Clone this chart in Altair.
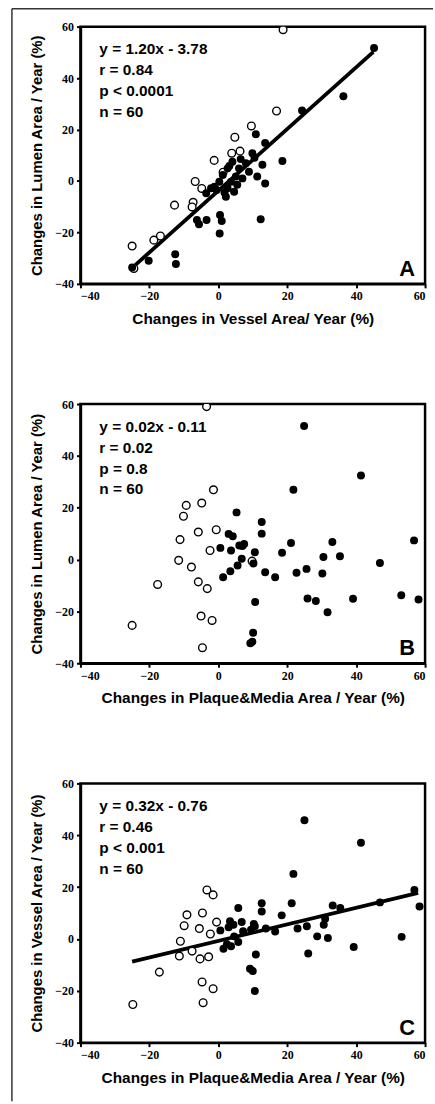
import altair as alt
import pandas as pd

# ---------------- Panel A: vessel change (x) vs lumen change (y)
A_open_x = [18.8, 16.9, 9.6, 4.8, 6.3, 3.9, -1.2, 1.4, -6.7, -4.8, -7.3, -7.6, -12.7, -16.8, -18.7, -25.0, -24.5]
A_open_y = [58.8, 27.2, 21.4, 17.0, 11.6, 10.8, 8.0, 3.4, -0.2, -2.9, -8.3, -10.1, -9.4, -21.4, -23.0, -25.3, -34.0]
A_fill_x = [45.2, 36.3, 24.3, 10.9, 13.6, 18.6, 12.8, 9.9, 8.0, 4.1, 2.7, 6.0, 8.9, 11.3, 13.6, 5.1, 1.3, 0.3,
            3.7, -1.1, 2.7, 4.6, 2.2, -2.1, -3.5, 12.3, 0.5, 1.0, 0.4, -6.2, -5.6, -3.4, -12.5, -12.3, -20.2,
            -25.0, 5.5, 7.0, 6.5, -0.5, 3.2, 10.5, 1.8]
A_fill_y = [51.7, 32.9, 27.4, 18.2, 14.8, 7.8, 6.3, 10.8, 6.9, 7.5, 4.9, 4.9, 3.6, 1.7, -1.0, 1.7, 2.3, -0.3,
            -0.3, -2.2, -2.8, -4.2, -6.1, -2.8, -4.8, -14.9, -13.2, -15.6, -20.4, -15.2, -16.8, -15.2, -28.5,
            -32.3, -31.0, -33.6, -1.5, 1.0, 8.5, -3.5, 5.8, 9.0, -4.5]

# ---------------- Panel B: plaque&media change (x) vs lumen change (y)
B_open_x = [-3.4, -1.4, -4.8, -9.3, -10.1, -5.8, -0.6, -11.1, -2.4, -11.5, -7.8, -17.6, -5.8, -3.2, -5.0,
            -1.8, -25.0, -4.6, 9.8]
B_open_y = [59.0, 26.9, 21.8, 20.9, 16.7, 10.6, 11.5, 7.7, 3.5, -0.3, -2.9, -9.6, -8.6, -11.2, -21.8,
            -23.5, -25.4, -34.0, -0.6]
B_fill_x = [24.9, 41.4, 21.8, 5.3, 12.6, 12.6, 3.0, 4.2, 0.6, 3.7, 6.1, 7.5, 10.6, 6.8, 10.2, 5.6, 3.5, 1.4,
            13.6, 16.5, 18.5, 21.1, 22.7, 25.6, 25.9, 28.3, 30.2, 30.5, 31.7, 33.1, 35.3, 39.1, 46.9, 53.1,
            56.8, 58.1, 10.7, 10.1, 9.9, 9.3, 7.0]
B_fill_y = [51.5, 32.4, 26.9, 18.2, 14.5, 10.0, 9.9, 9.0, 4.5, 3.5, 5.4, 6.0, 2.8, 0.3, -1.5, -2.3, -4.5, -6.8,
            -4.9, -6.8, 2.6, 6.4, -5.1, -3.6, -15.0, -16.0, -5.4, 1.0, -20.3, 6.8, 1.3, -15.1, -1.3, -13.8,
            7.4, -15.4, -16.4, -28.2, -31.7, -32.3, 5.2]

# ---------------- Panel C: plaque&media change (x) vs vessel change (y)
C_open_x = [-3.3, -1.5, -9.1, -4.6, -0.5, -9.9, -5.5, -2.3, -11.0, -11.3, -7.6, -5.3, -2.8, -17.1, -4.7,
            -1.5, -4.4, -24.8]
C_open_y = [18.9, 17.0, 9.3, 10.0, 6.5, 5.1, 4.0, 1.9, -0.9, -6.6, -4.7, -7.7, -6.9, -12.8, -16.6,
            -19.2, -24.6, -25.3]
C_fill_x = [25.0, 41.4, 21.8, 12.6, 12.6, 21.3, 18.4, 10.6, 13.8, 16.5, 23.0, 25.7, 28.7, 30.6, 31.0, 31.8,
            33.2, 35.4, 46.9, 56.9, 58.4, 53.2, 39.3, 26.1, 10.9, 10.0, 10.6, 0.6, 3.4, 5.8, 4.4, 6.8, 9.5,
            10.3, 1.5, 3.7, 5.8, 4.6, 9.2, 2.5, 7.2, 3.0]
C_fill_y = [45.8, 37.1, 25.1, 13.8, 10.6, 13.8, 9.1, 4.9, 4.0, 2.9, 4.0, 4.9, 1.0, 5.5, 7.8, 0.4,
            12.9, 11.9, 14.1, 18.9, 12.5, 0.8, -3.1, -5.6, -6.0, -12.4, -20.1, 3.3, 6.8, 11.9, 5.5, 6.5, 3.6,
            5.8, -3.8, -2.8, -1.2, 1.0, -11.5, -2.0, 3.0, 4.5]

# regression equations as printed, and the x-extent over which each line is drawn
A_fit = (1.20, -3.78, [-25.0, 45.0])
C_fit = (0.32, -0.76, [-25.0, 58.0])

A_stats = ["y = 1.20x - 3.78", "r = 0.84", "p < 0.0001", "n = 60"]
B_stats = ["y = 0.02x - 0.11", "r = 0.02", "p = 0.8", "n = 60"]
C_stats = ["y = 0.32x - 0.76", "r = 0.46", "p < 0.001", "n = 60"]

TICKS = [-40, -20, 0, 20, 40, 60]
X_TITLE_A = "Changes in Vessel Area/ Year (%)"
X_TITLE_BC = "Changes in Plaque&Media Area / Year (%)"
Y_TITLE_LUMEN = "Changes in Lumen Area / Year (%)"
Y_TITLE_VESSEL = "Changes in Vessel Area / Year (%)"

W = 347
FONT = "Liberation Sans"


def panel(ox, oy, fx, fy, fit, stats, letter, xtitle, ytitle, h, frame=False):
    xs = alt.Scale(domain=[-40, 60], nice=False)
    ys = alt.Scale(domain=[-40, 60], nice=False)
    xax = alt.Axis(values=TICKS, title=xtitle, format="d")
    yax = alt.Axis(values=TICKS, title=ytitle, format="d")
    dopen = pd.DataFrame({"x": ox, "y": oy})
    dfill = pd.DataFrame({"x": fx, "y": fy})
    layers = []
    if fit is not None:
        m, b, ext = fit
        dl = pd.DataFrame({"x": ext, "y": [m * v + b for v in ext]})
        layers.append(alt.Chart(dl).mark_line(color="black", strokeWidth=3.8).encode(
            x=alt.X("x:Q", scale=xs, axis=xax), y=alt.Y("y:Q", scale=ys, axis=yax)))
    layers.append(alt.Chart(dopen).mark_point(shape="circle", filled=False, fill="white", fillOpacity=1,
                                             stroke="black", strokeWidth=1.4, size=60, opacity=1, clip=True).encode(
        x=alt.X("x:Q", scale=xs, axis=xax), y=alt.Y("y:Q", scale=ys, axis=yax)))
    layers.append(alt.Chart(dfill).mark_circle(color="black", size=64, opacity=1, clip=True).encode(
        x=alt.X("x:Q", scale=xs, axis=xax), y=alt.Y("y:Q", scale=ys, axis=yax)))
    one = pd.DataFrame({"k": [0]})
    layers.append(alt.Chart(one).mark_text(text=stats, align="left", baseline="middle", lineHeight=21,
                                           font=FONT, fontSize=15.5, fontWeight="bold", color="black").encode(
        x=alt.value(19), y=alt.value(23)))
    layers.append(alt.Chart(one).mark_text(text=letter, align="right", baseline="alphabetic",
                                           font=FONT, fontSize=22, fontWeight="bold", color="black").encode(
        x=alt.value(337), y=alt.value(h - 8)))
    if frame:
        # outer figure frame: left and top edges only
        layers.append(alt.Chart(one).mark_rule(color="#333333", strokeWidth=1.5).encode(
            x=alt.value(-69), y=alt.value(-18), y2=alt.value(1082)))
        layers.append(alt.Chart(one).mark_rule(color="#333333", strokeWidth=1.5).encode(
            x=alt.value(-69), x2=alt.value(355), y=alt.value(-18)))
    return alt.layer(*layers).properties(width=W, height=h)


pA = panel(A_open_x, A_open_y, A_fill_x, A_fill_y, A_fit, A_stats, "A", X_TITLE_A, Y_TITLE_LUMEN, 259, frame=True)
pB = panel(B_open_x, B_open_y, B_fill_x, B_fill_y, None, B_stats, "B", X_TITLE_BC, Y_TITLE_LUMEN, 261)
pC = panel(C_open_x, C_open_y, C_fill_x, C_fill_y, C_fit, C_stats, "C", X_TITLE_BC, Y_TITLE_VESSEL, 261)

chart = alt.vconcat(pA, pB, pC, spacing=121, bounds="flush").properties(
    padding={"left": 10, "top": 3, "right": 0, "bottom": 0},
    background="white",
).configure_view(
    stroke="black", strokeWidth=2.5
).configure_axis(
    grid=False,
    domainColor="black", domainWidth=2.5,
    tickColor="black", tickWidth=2, tickSize=4,
    labelFont="Liberation Sans Narrow", labelFontSize=12, labelFontWeight="bold", labelColor="black",
    labelPadding=3,
    titleFont=FONT, titleFontWeight="bold", titleColor="black",
).configure_axisX(titlePadding=10, titleFontSize=15.5).configure_axisY(titlePadding=10, titleFontSize=15)

chart.save("out.html", embed_options={"renderer": "svg", "actions": False})
